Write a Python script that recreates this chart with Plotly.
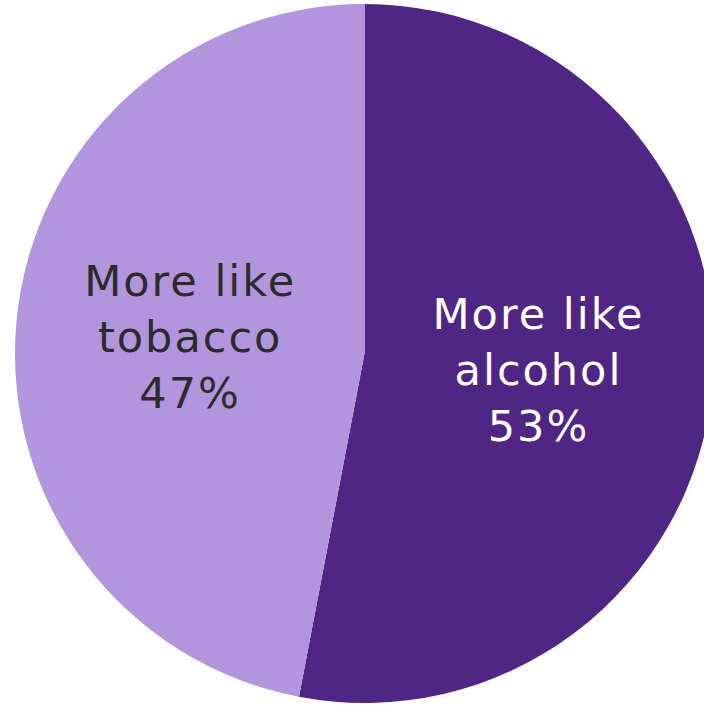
import plotly.graph_objects as go

labels = ["More like alcohol", "More like tobacco"]
text_labels = ["More like<br>alcohol", "More like<br>tobacco"]
values = [53, 47]
colors = ["#4F2683", "#B395DE"]
text_colors = ["#FFFFFF", "#2B2B2B"]

fig = go.Figure(go.Pie(
    labels=labels,
    values=values,
    text=text_labels,
    texttemplate="%{text}<br>%{percent:.0%}",
    textinfo="text+percent",
    textposition="inside",
    insidetextorientation="horizontal",
    sort=False,
    direction="clockwise",
    rotation=0,
    marker=dict(colors=colors, line=dict(width=0)),
    insidetextfont=dict(family="DejaVu Sans, Verdana, sans-serif", size=43, color=text_colors),
    showlegend=False,
    hoverinfo="label+percent",
))

fig.update_layout(
    width=720,
    height=705,
    margin=dict(l=15, r=6, t=4, b=2, autoexpand=False),
    paper_bgcolor="white",
    plot_bgcolor="white",
    uniformtext=dict(minsize=10, mode="show"),
)

post = """
document.documentElement.style.overflow='hidden';
document.body.style.overflow='hidden';
document.body.style.margin='0';
var gd = document.getElementById('{plot_id}');
function sp(){ gd.querySelectorAll('.slicetext').forEach(function(t){ t.style.letterSpacing='2px'; }); }
sp();
if (gd.on) { gd.on('plotly_afterplot', sp); }
"""

fig.write_html("out.html", config={"displayModeBar": False}, post_script=post)
